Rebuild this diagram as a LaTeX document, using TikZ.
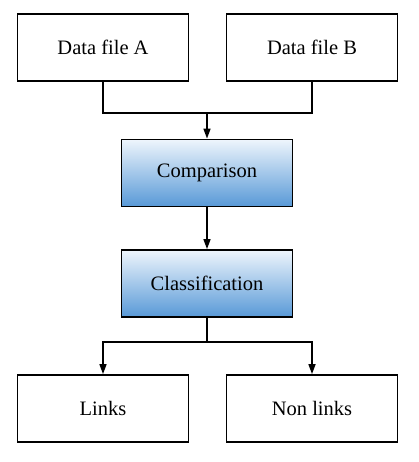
\documentclass[tikz,border=0pt]{standalone}
\usepackage{fontspec}
\setmainfont{Liberation Serif}
\usetikzlibrary{arrows.meta}
\definecolor{shtop}{RGB}{238,245,252}
\definecolor{shbot}{RGB}{88,153,215}
\begin{document}
\begin{tikzpicture}[x=1pt,y=-1pt,
  plainbox/.style={draw=black,line width=1.8pt,fill=white,minimum width=171pt,minimum height=67pt,inner sep=0pt,font=\fontsize{20.5}{22}\selectfont},
  bluebox/.style={plainbox,top color=shtop,bottom color=shbot},
  conn/.style={line width=1.6pt},
  arr/.style={conn,-{Triangle[length=10pt,width=7pt]}}]
\useasboundingbox (0,0) rectangle (419,462);
\node[plainbox] (a) at (103,47.5) {Data file A};
\node[plainbox] (b) at (312,47.5) {Data file B};
\node[bluebox] (cmp) at (207,173) {Comparison};
\node[bluebox] (cls) at (207,283.5) {Classification};
\node[plainbox] (l) at (103,408.5) {Links};
\node[plainbox] (n) at (312,408.5) {Non links};
\coordinate (j1) at (207,113);
\coordinate (j2) at (207,342);
\draw[conn] (a.south) |- (j1) -| (b.south);
\draw[arr] (j1) -- (cmp.north);
\draw[arr] (cmp.south) -- (cls.north);
\draw[conn] (cls.south) -- (j2);
\draw[arr] (j2) -| (l.north);
\draw[arr] (j2) -| (n.north);
\end{tikzpicture}
\end{document}
